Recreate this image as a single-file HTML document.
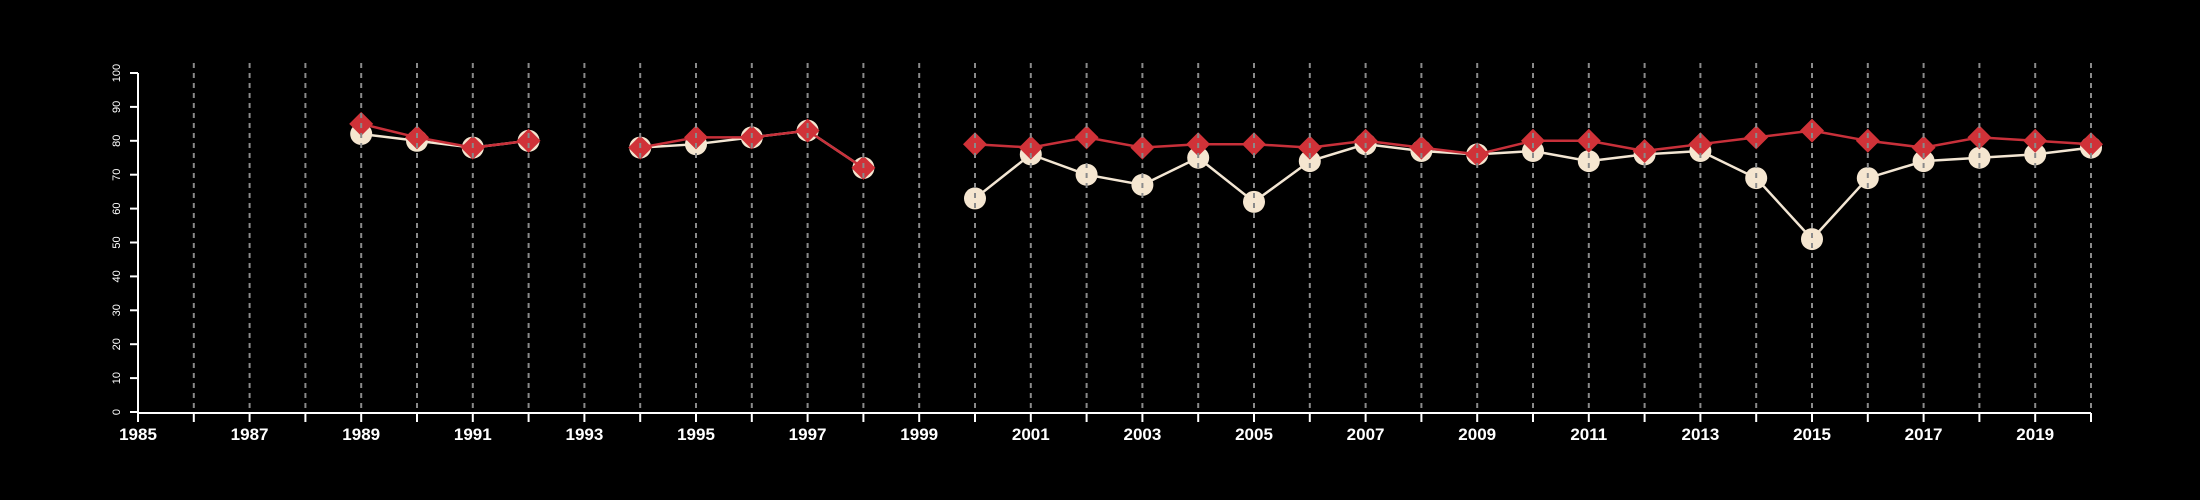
<!DOCTYPE html>
<html><head><meta charset="utf-8"><style>body{margin:0;background:#000}svg{display:block}</style></head>
<body>
<svg id="chart" width="2200" height="500" xmlns="http://www.w3.org/2000/svg" font-family="Liberation Sans, sans-serif">
<rect width="2200" height="500" fill="#000"/>
<g id="series"></g>
<g id="grid"></g>
<g id="axes"></g>
</svg>
<script>
const years = [1989,1990,1991,1992,1993,1994,1995,1996,1997,1998,1999,2000,2001,2002,2003,2004,2005,2006,2007,2008,2009,2010,2011,2012,2013,2014,2015,2016,2017,2018,2019,2020];
const whiteValues = [82,80,78,80,null,78,79,81,83,72,null,63,76,70,67,75,62,74,79,77,76,77,74,76,77,69,51,69,74,75,76,78];
const redValues = [85,81,78,80,null,78,81,81,83,72,null,79,78,81,78,79,79,78,80,78,76,80,80,77,79,81,83,80,78,81,80,79];
const yTicks = [0,10,20,30,40,50,60,70,80,90,100];
const xMin = 1985, xMax = 2020;

const NS = 'http://www.w3.org/2000/svg';
const X = v => 138 + (v - xMin) * (2091 - 138) / (xMax - xMin);
const Y = v => 412 - v * (412 - 73) / 100;
function mk(tag, attrs, parent) { const e = document.createElementNS(NS, tag); for (const k in attrs) e.setAttribute(k, attrs[k]); parent.appendChild(e); return e; }
const series = document.getElementById('series'), grid = document.getElementById('grid'), axes = document.getElementById('axes');

function drawLine(vals, color, width, name) {
  let segs = [], cur = [];
  vals.forEach((v, i) => { if (v == null) { if (cur.length) segs.push(cur); cur = []; } else cur.push([X(years[i]), Y(v)]); });
  if (cur.length) segs.push(cur);
  segs.forEach(s => {
    const p = mk('polyline', {points: s.map(q => q.join(',')).join(' '), fill: 'none', stroke: color, 'stroke-width': width}, series);
    
    
  });
}
drawLine(whiteValues, '#f3e6d3', 2.5, 'white-series-line');
whiteValues.forEach((v, i) => { if (v == null) return;
  const c = mk('circle', {cx: X(years[i]), cy: Y(v), r: 11, fill: '#f5e6d0'}, series);
  
  
});
drawLine(redValues, '#c8303a', 2.5, 'red-series-line');
redValues.forEach((v, i) => { if (v == null) return;
  const x = X(years[i]), y = Y(v), s = 12;
  const d = mk('polygon', {points: `${x},${y-s} ${x+s},${y} ${x},${y+s} ${x-s},${y}`, fill: '#d03238'}, series);
  
  
});
for (let yr = 1986; yr <= 2020; yr++) {
  const g = mk('line', {x1: X(yr), x2: X(yr), y1: 63, y2: 412, stroke: '#8a8a8a', 'stroke-width': 2, 'stroke-dasharray': '5,5'}, grid);
  
  
}
const xa = mk('line', {x1: X(xMin), x2: X(xMax), y1: 413, y2: 413, stroke: '#fff', 'stroke-width': 2}, axes);


const ya = mk('line', {x1: 138, x2: 138, y1: Y(0), y2: Y(100), stroke: '#fff', 'stroke-width': 2}, axes);


for (let yr = xMin; yr <= xMax; yr++) {
  mk('line', {x1: X(yr), x2: X(yr), y1: 413, y2: 422, stroke: '#fff', 'stroke-width': 2}, axes);
  if ((yr - xMin) % 2 === 0) {
    const t = mk('text', {x: X(yr), y: 440, fill: '#fff', 'font-size': 17, 'font-weight': 'bold', 'text-anchor': 'middle'}, axes);
    t.textContent = yr;
    
    
  }
}
yTicks.forEach(v => {
  mk('line', {x1: 130, x2: 138, y1: Y(v), y2: Y(v), stroke: '#fff', 'stroke-width': 2}, axes);
  const t = mk('text', {x: 120, y: Y(v), fill: '#fff', 'font-size': 11, 'text-anchor': 'middle', transform: `rotate(-90 120 ${Y(v)})`}, axes);
  t.textContent = v;
  
  
});
</script>
</body></html>
